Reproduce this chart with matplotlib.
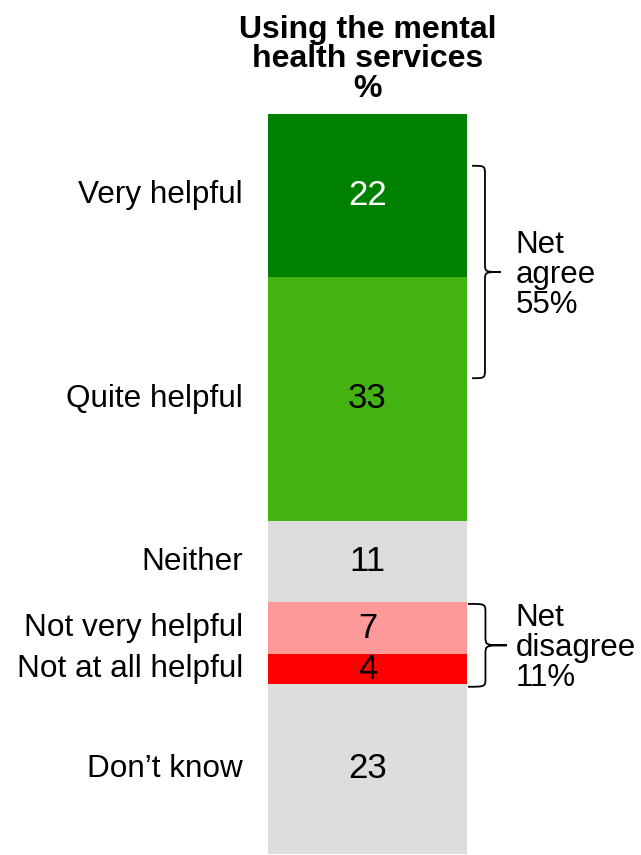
import matplotlib.pyplot as plt
from matplotlib.path import Path
import matplotlib.patches as mpatches

plt.rcParams['font.family'] = ['Liberation Sans', 'DejaVu Sans']

categories = ['Very helpful', 'Quite helpful', 'Neither', 'Not very helpful',
              'Not at all helpful', 'Don\u2019t know']
values = [22, 33, 11, 7, 4, 23]
colors = ['#008000', '#43b311', '#dddddd', '#ff9999', '#ff0000', '#dddddd']
num_colors = ['white', 'black', 'black', 'black', 'black', 'black']
title = 'Using the mental\nhealth services\n%'
nets = [('Net\nagree\n55%', 7.0, 35.7, 1.025, 1.17),
        ('Net\ndisagree\n11%', 66.2, 77.4, 1.005, 1.2)]

fig = plt.figure(figsize=(6.41, 8.55), dpi=100)
ax = fig.add_axes([268 / 641, 1 - 854 / 855, 199 / 641, 740 / 855])
ax.set_xlim(0, 1)
ax.set_ylim(100, 0)
ax.axis('off')

bottom = 0
for cat, v, c, nc in zip(categories, values, colors, num_colors):
    ax.bar(0.5, v, width=1.0, bottom=bottom, color=c, edgecolor='none')
    mid = bottom + v / 2
    ax.text(0.5, mid, str(v), ha='center', va='center', fontsize=25, color=nc)
    ax.text(-0.125, mid, cat, ha='right', va='center', fontsize=22.7, color='black')
    bottom += v

ax.text(0.5, -1.4, title, ha='center', va='bottom', fontsize=23, fontweight='bold',
        linespacing=0.98)


def brace(ax, y0, y1, x0, x1):
    ym = (y0 + y1) / 2
    xm = x0 + (x1 - x0) * 0.45
    r = 1.2
    codes = [Path.MOVETO, Path.CURVE4, Path.CURVE4, Path.CURVE4,
             Path.LINETO, Path.CURVE4, Path.CURVE4, Path.CURVE4,
             Path.MOVETO, Path.CURVE4, Path.CURVE4, Path.CURVE4,
             Path.LINETO, Path.CURVE4, Path.CURVE4, Path.CURVE4]
    verts = [(x0, y0), (xm, y0), (xm, y0), (xm, y0 + r),
             (xm, ym - r), (xm, ym), (xm, ym), (x1, ym),
             (x1, ym), (xm, ym), (xm, ym), (xm, ym + r),
             (xm, y1 - r), (xm, y1), (xm, y1), (x0, y1)]
    p = mpatches.PathPatch(Path(verts, codes), fill=False, lw=1.3,
                           edgecolor='black', clip_on=False)
    ax.add_patch(p)


for label, y0, y1, x0, x1 in nets:
    brace(ax, y0, y1, x0, x1)
    ax.text(1.245, (y0 + y1) / 2 + 0.4, label, ha='left', va='center', fontsize=22.5,
            linespacing=1.0)

fig.savefig('out.png', dpi=100)
